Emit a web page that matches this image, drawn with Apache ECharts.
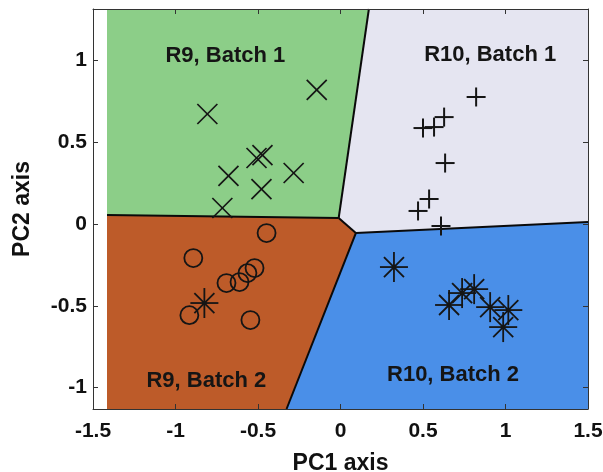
<!DOCTYPE html>
<html>
<head>
<meta charset="utf-8">
<script src="https://cdn.jsdelivr.net/npm/echarts@6/dist/echarts.min.js"></script>
<style>
  html, body { margin: 0; padding: 0; background: #ffffff; }
  #chart { width: 603px; height: 472px; }
</style>
</head>
<body>
<div id="chart"></div>
<script>
// Axis extents and tick labels
const xTicks = [-1.5, -1, -0.5, 0, 0.5, 1, 1.5];
const yTicks = [-1, -0.5, 0, 0.5, 1];
const xExtent = [-1.5, 1.5];
const yExtent = [-1.131, 1.315];

// Decision regions in the PC1/PC2 plane (polygon vertices)
const regionR9B1 = [[-1.415, 1.315], [0.172, 1.315], [-0.011, 0.037], [-1.415, 0.055]];
const regionR10B1 = [[0.172, 1.315], [1.5, 1.315], [1.5, 0.012], [0.093, -0.055], [-0.011, 0.037]];
const regionR9B2 = [[-1.415, 0.055], [-0.011, 0.037], [0.093, -0.055], [-0.327, -1.131], [-1.415, -1.131]];
const regionR10B2 = [[0.093, -0.055], [1.5, 0.012], [1.5, -1.131], [-0.327, -1.131]];

// Boundaries between neighbouring regions
const boundaries = [
  [[-1.415, 0.055], [-0.011, 0.037]],
  [[0.172, 1.315], [-0.011, 0.037]],
  [[-0.011, 0.037], [0.093, -0.055]],
  [[0.093, -0.055], [1.5, 0.012]],
  [[0.093, -0.055], [-0.327, -1.131]]
];

// Region names and where they are written
const regionNames = ['R9, Batch 1', 'R10, Batch 1', 'R9, Batch 2', 'R10, Batch 2'];
const regionNameAnchors = [[-0.698, 1.028], [0.907, 1.034], [-0.813, -0.960], [0.682, -0.924]];

// Samples projected on the first two principal components
const r9Batch1 = [
  [-0.807, 0.673], [-0.144, 0.820], [-0.679, 0.294], [-0.509, 0.404],
  [-0.473, 0.422], [-0.479, 0.214], [-0.284, 0.312], [-0.716, 0.098]
];
const r10Batch1 = [
  [0.822, 0.777], [0.500, 0.587], [0.567, 0.593], [0.628, 0.654],
  [0.634, 0.373], [0.537, 0.153], [0.470, 0.080], [0.609, -0.012]
];
const r9Batch2 = [
  [-0.448, -0.055], [-0.892, -0.208], [-0.691, -0.361], [-0.612, -0.355],
  [-0.564, -0.300], [-0.521, -0.269], [-0.916, -0.557], [-0.546, -0.587]
];
const r10Batch2 = [
  [0.324, -0.263], [0.658, -0.495], [0.737, -0.422], [0.810, -0.398],
  [0.907, -0.508], [1.017, -0.526], [0.986, -0.630], [-0.825, -0.483]
];

const regionColors = ['#8cce88', '#e5e5f1', '#bd5b29', '#4a8fe8'];
const ink = '#151515';
const fontFamily = '"Liberation Sans", Arial, Helvetica, sans-serif';

const chart = echarts.init(document.getElementById('chart'), null, { renderer: 'canvas' });

function regionSeries() {
  const polys = [regionR9B1, regionR10B1, regionR9B2, regionR10B2];
  return {
    type: 'custom',
    coordinateSystem: 'cartesian2d',
    data: polys.map((p, i) => [p[0][0], p[0][1], i]),
    encode: { x: 0, y: 1 },
    silent: true,
    z: 1,
    renderItem: (params, api) => {
      const i = api.value(2);
      return {
        type: 'polygon',
        shape: { points: polys[i].map(v => api.coord(v)) },
        style: { fill: regionColors[i], stroke: null }
      };
    }
  };
}

function boundarySeries() {
  return {
    type: 'custom',
    coordinateSystem: 'cartesian2d',
    data: boundaries.map((b, i) => [b[0][0], b[0][1], i]),
    encode: { x: 0, y: 1 },
    silent: true,
    z: 2,
    renderItem: (params, api) => {
      const b = boundaries[api.value(2)];
      return {
        type: 'polyline',
        shape: { points: b.map(v => api.coord(v)) },
        style: { stroke: '#0a0a0a', lineWidth: 2, fill: null }
      };
    }
  };
}

function labelSeries() {
  return {
    type: 'custom',
    coordinateSystem: 'cartesian2d',
    data: regionNameAnchors.map((a, i) => [a[0], a[1], i]),
    encode: { x: 0, y: 1 },
    silent: true,
    z: 3,
    renderItem: (params, api) => {
      const p = api.coord([api.value(0), api.value(1)]);
      return {
        type: 'text',
        x: p[0], y: p[1],
        style: {
          text: regionNames[api.value(2)],
          fill: '#151515',
          font: 'bold 22px ' + fontFamily,
          align: 'center',
          verticalAlign: 'middle'
        }
      };
    }
  };
}

function markerShapes(kind, x, y) {
  const line = (x1, y1, x2, y2, w) => ({
    type: 'line',
    shape: { x1: x1, y1: y1, x2: x2, y2: y2 },
    style: { stroke: ink, lineWidth: w }
  });
  if (kind === 'x') {
    const s = 10;
    return [line(x - s, y - s, x + s, y + s, 1.7), line(x - s, y + s, x + s, y - s, 1.7)];
  }
  if (kind === 'plus') {
    const s = 9.5;
    return [line(x - s, y, x + s, y, 2), line(x, y - s, x, y + s, 2)];
  }
  if (kind === 'circle') {
    return [{
      type: 'circle',
      shape: { cx: x, cy: y, r: 9 },
      style: { stroke: ink, lineWidth: 1.8, fill: null }
    }];
  }
  // asterisk
  const h = 14, d = 10;
  return [
    line(x - h, y, x + h, y, 1.8),
    line(x, y - h - 1, x, y + h + 1, 1.8),
    line(x - d, y - d, x + d, y + d, 1.8),
    line(x - d, y + d, x + d, y - d, 1.8),
    { type: 'circle', shape: { cx: x, cy: y, r: 2.2 }, style: { fill: ink } }
  ];
}

function markerSeries(name, data, kind) {
  return {
    name: name,
    type: 'custom',
    coordinateSystem: 'cartesian2d',
    data: data,
    encode: { x: 0, y: 1 },
    z: 5,
    renderItem: (params, api) => {
      const p = api.coord([api.value(0), api.value(1)]);
      return { type: 'group', children: markerShapes(kind, p[0], p[1]) };
    }
  };
}

const tickLabelStyle = { color: '#111', fontSize: 21, fontWeight: 'bold', fontFamily: fontFamily };
const nameStyle = { color: '#111', fontSize: 23, fontWeight: 'bold', fontFamily: fontFamily };
const axisLineStyle = { show: true, onZero: false, lineStyle: { color: '#333', width: 1 } };
const tickStyle = { inside: true, length: 5, lineStyle: { color: '#333' } };

chart.setOption({
  animation: false,
  backgroundColor: '#ffffff',
  grid: { left: 93, right: 15, top: 9, bottom: 63, containLabel: false, outerBoundsMode: 'none' },
  xAxis: [
    {
      type: 'value', position: 'bottom', z: 20,
      min: xExtent[0], max: xExtent[1],
      name: 'PC1 axis', nameLocation: 'middle', nameGap: 43, nameTextStyle: nameStyle,
      axisLine: axisLineStyle,
      axisTick: Object.assign({ customValues: xTicks }, tickStyle),
      axisLabel: Object.assign({ margin: 12, customValues: xTicks }, tickLabelStyle),
      splitLine: { show: false }
    },
    {
      type: 'value', position: 'top', z: 20,
      min: xExtent[0], max: xExtent[1],
      axisLine: axisLineStyle,
      axisTick: Object.assign({ customValues: xTicks }, tickStyle),
      axisLabel: { show: false },
      splitLine: { show: false }
    }
  ],
  yAxis: [
    {
      type: 'value', position: 'left', z: 20,
      min: yExtent[0], max: yExtent[1],
      name: 'PC2 axis', nameLocation: 'middle', nameGap: 59, nameRotate: 90, nameTextStyle: nameStyle,
      axisLine: axisLineStyle,
      axisTick: Object.assign({ customValues: yTicks }, tickStyle),
      axisLabel: Object.assign({ margin: 6, customValues: yTicks }, tickLabelStyle),
      splitLine: { show: false }
    },
    {
      type: 'value', position: 'right', z: 20,
      min: yExtent[0], max: yExtent[1],
      axisLine: axisLineStyle,
      axisTick: Object.assign({ customValues: yTicks }, tickStyle),
      axisLabel: { show: false },
      splitLine: { show: false }
    }
  ],
  series: [
    regionSeries(),
    boundarySeries(),
    labelSeries(),
    markerSeries('R9, Batch 1', r9Batch1, 'x'),
    markerSeries('R10, Batch 1', r10Batch1, 'plus'),
    markerSeries('R9, Batch 2', r9Batch2, 'circle'),
    markerSeries('R10, Batch 2', r10Batch2, 'asterisk')
  ]
});
</script>
</body>
</html>
